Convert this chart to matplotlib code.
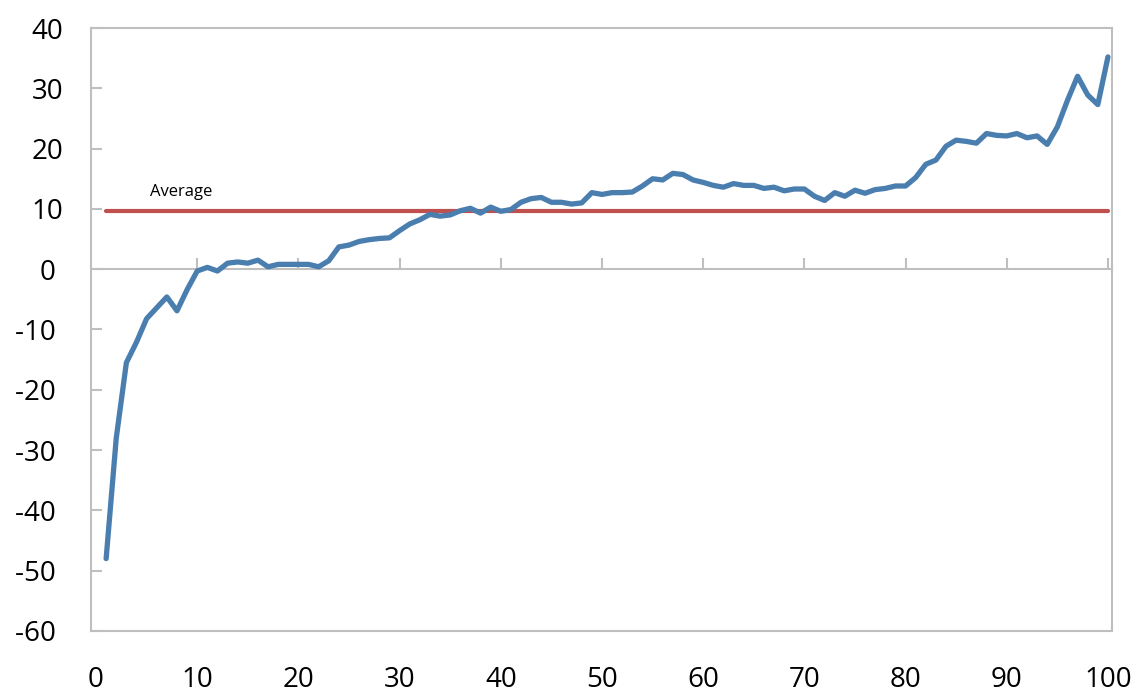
import numpy as np
import matplotlib
matplotlib.use("Agg")
import matplotlib.pyplot as plt

# values (x = 1..100)
x = np.arange(1, 101)
values = [
    -48.0, -28.0, -15.5, -12.1, -8.2, -6.4, -4.6, -6.9, -3.4, -0.3,
    0.3, -0.3, 1.0, 1.2, 1.0, 1.5, 0.4, 0.8, 0.8, 0.8,
    0.8, 0.4, 1.4, 3.7, 4.0, 4.6, 4.9, 5.1, 5.2, 6.4,
    7.5, 8.2, 9.1, 8.8, 9.0, 9.7, 10.1, 9.3, 10.3, 9.6,
    9.9, 11.1, 11.7, 11.9, 11.1, 11.1, 10.8, 11.0, 12.7, 12.4,
    12.7, 12.7, 12.8, 13.8, 15.0, 14.8, 15.9, 15.7, 14.8, 14.4,
    13.9, 13.6, 14.2, 13.9, 13.9, 13.4, 13.6, 13.0, 13.3, 13.3,
    12.1, 11.4, 12.7, 12.1, 13.1, 12.6, 13.2, 13.4, 13.8, 13.8,
    15.2, 17.4, 18.1, 20.4, 21.4, 21.2, 20.9, 22.5, 22.2, 22.1,
    22.5, 21.8, 22.1, 20.7, 23.6, 28.0, 32.0, 28.9, 27.3, 35.2,
]
average = 9.7
avg_label = "Average"

xticks = list(range(0, 101, 10))
yticks = list(range(-60, 41, 10))

plt.rcParams['font.family'] = ['Open Sans', 'DejaVu Sans']

fig = plt.figure(figsize=(11.37, 6.92), dpi=100)
ax = fig.add_axes([0.080, 0.0882, 0.898, 0.8713])

grey = '#BFBFBF'

ax.plot(x, [average] * len(x), color='#C0504D', lw=3.0, solid_capstyle='round', zorder=3)
ax.plot(x, values, color='#4A7EAF', lw=3.8, solid_capstyle='round',
        solid_joinstyle='round', zorder=4)
ax.text(5.3, 12.8, avg_label, fontsize=12, ha='left', va='center', color='#000000')

ax.set_xlim(-0.5, 100.4)
ax.set_ylim(-60, 40)

for s in ax.spines.values():
    s.set_color(grey)
    s.set_linewidth(1.5)

ax.set_xticks(xticks)
ax.set_xticklabels([str(t) for t in xticks])
ax.tick_params(axis='x', length=0, pad=25, labelsize=20)

ax.set_yticks(yticks)
ax.set_yticklabels([str(t) if t > 0 else str(t) + ' ' for t in yticks])
ax.tick_params(axis='y', direction='in', length=8, width=1.5, color=grey,
               pad=20, labelsize=20)

# horizontal axis line at zero with upward tick marks
zero_frac = (0 - ax.get_ylim()[0]) / (ax.get_ylim()[1] - ax.get_ylim()[0])
sec = ax.secondary_xaxis(zero_frac)
for s in sec.spines.values():
    s.set_color(grey)
    s.set_linewidth(1.5)
sec.set_xticks(xticks[1:])
sec.set_xticklabels([])
sec.tick_params(axis='x', direction='out', length=8, width=1.5, color=grey)

fig.savefig('out.png', dpi=100)
